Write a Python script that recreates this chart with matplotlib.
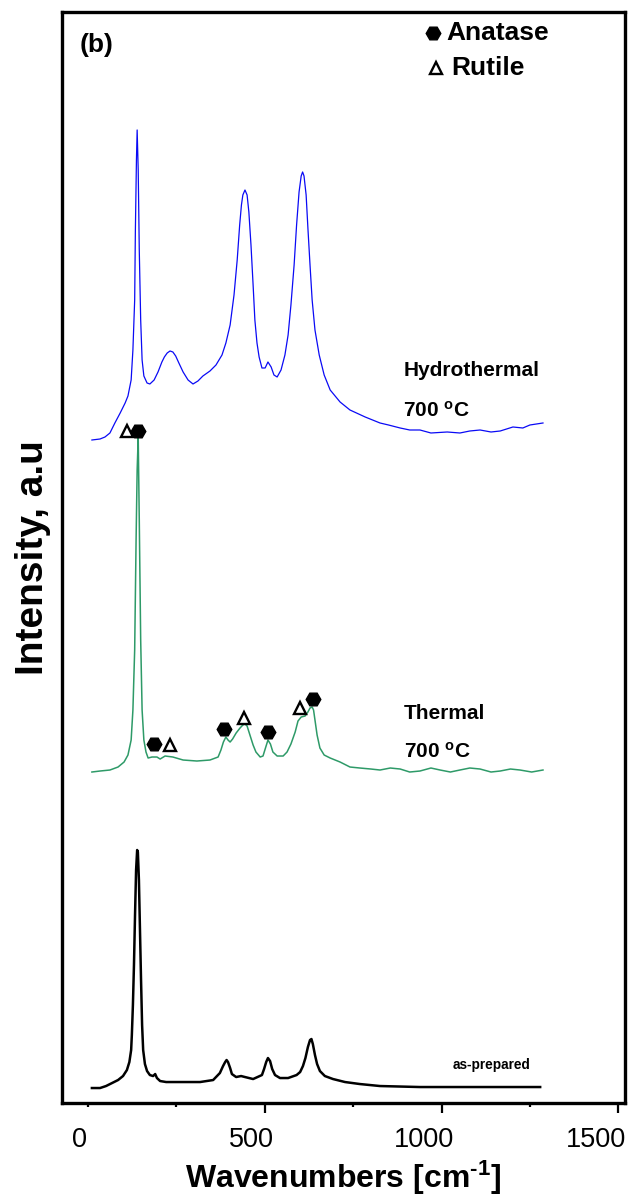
import numpy as np
import matplotlib
matplotlib.use("Agg")
import matplotlib.pyplot as plt
import matplotlib.transforms as mtransforms

plt.rcParams['font.family'] = ['Liberation Sans', 'DejaVu Sans']
plt.rcParams['mathtext.fontset'] = 'custom'
plt.rcParams['mathtext.rm'] = 'Liberation Sans:bold'
plt.rcParams['mathtext.it'] = 'Liberation Sans:bold'
plt.rcParams['mathtext.bf'] = 'Liberation Sans:bold'

# Raman spectra (wavenumber in cm-1, intensity in a.u.)
hydro_x = [11, 34, 48, 62, 76, 91, 105, 113, 122, 127, 132, 134, 137, 139, 142, 145, 149,
           153, 158, 167, 175, 187, 198, 209, 216, 224, 232, 240, 248, 257, 269, 283, 297,
           311, 325, 345, 362, 379, 390, 402, 413, 422, 429, 434, 438, 444, 450, 455, 461,
           467, 472, 478, 484, 492, 501, 509, 518, 526, 535, 546, 557, 566, 574, 583, 590,
           597, 603, 607, 611, 617, 622, 628, 634, 642, 654, 668, 685, 713, 741, 784, 826,
           850, 883, 910, 939, 970, 1016, 1052, 1080, 1109, 1140, 1166, 1202, 1230, 1250, 1287]
hydro_y = [663, 664, 666, 670, 680, 690, 700, 707, 723, 753, 803, 873, 943, 973, 933, 853, 783,
           743, 727, 720, 719, 723, 731, 741, 746, 750, 752, 751, 747, 740, 731, 723, 719,
           722, 727, 732, 738, 748, 760, 778, 808, 843, 878, 898, 908, 913, 908, 891, 858,
           818, 783, 760, 746, 735, 735, 741, 736, 728, 726, 733, 748, 768, 798, 838, 878,
           911, 927, 931, 927, 908, 875, 838, 803, 773, 748, 728, 713, 701, 693, 686, 680,
           678, 675, 673, 673, 670, 671, 670, 672, 673, 671, 672, 676, 675, 678, 680]

thermal_x = [11, 34, 62, 85, 102, 113, 122, 127, 132, 136, 139, 142, 145, 149, 153, 158, 164,
             170, 181, 195, 204, 218, 240, 269, 308, 345, 368, 376, 383, 390, 396, 402, 409,
             419, 430, 438, 444, 450, 458, 467, 475, 487, 495, 502, 509, 516, 523, 535, 552,
             563, 574, 586, 594, 603, 614, 622, 628, 634, 638, 642, 648, 656, 668, 685, 713,
             741, 769, 800, 826, 855, 883, 910, 939, 970, 996, 1025, 1052, 1080, 1109, 1140,
             1166, 1195, 1222, 1255, 1287]
thermal_y = [331, 332, 333, 336, 341, 348, 363, 393, 453, 563, 633, 666, 583, 463, 393, 363, 351,
             345, 346, 346, 344, 347, 346, 343, 342, 343, 346, 353, 361, 366, 363, 361, 364,
             370, 375, 378, 379, 377, 368, 358, 351, 346, 347, 355, 363, 359, 351, 347, 347,
             351, 359, 371, 382, 386, 387, 391, 395, 396, 393, 383, 368, 355, 348, 345, 341,
             336, 335, 334, 333, 335, 334, 331, 332, 335, 333, 331, 333, 335, 334, 331,
             332, 334, 333, 331, 333]

prep_x = [11, 34, 51, 68, 85, 99, 110, 117, 122, 124, 127, 130, 133, 136, 139, 141, 144,
          147, 150, 153, 156, 161, 167, 175, 184, 190, 195, 204, 221, 260, 289, 317, 354,
          373, 382, 388, 392, 396, 402, 407, 419, 433, 444, 467, 492, 498, 504, 509, 515,
          521, 529, 543, 566, 590, 600, 608, 615, 622, 628, 632, 636, 642, 648, 656, 670,
          693, 727, 769, 826, 939, 1052, 1166, 1279]
prep_y = [15, 15, 17, 20, 23, 27, 33, 41, 53, 68, 98, 138, 188, 233, 253, 251, 223,
          173, 123, 78, 53, 39, 32, 28, 27, 29, 25, 22, 21, 21, 21, 21, 23,
          30, 37, 41, 43, 41, 35, 29, 26, 27, 26, 24, 28, 34, 41, 45, 42,
          34, 28, 25, 25, 28, 31, 37, 45, 56, 63, 64, 59, 48, 39, 32, 27,
          24, 21, 19, 17, 16, 16, 16, 16]

# phase markers on the thermal spectrum
anatase_x = [141, 187, 385, 509, 636]
anatase_y = [672, 359, 374, 371, 404]
rutile_x = [110, 232, 441, 600]
rutile_y = [672, 358, 385, 395]

fig = plt.figure(figsize=(6.31, 11.97), dpi=100)
ax = fig.add_axes([0.0983, 0.0785, 0.8922, 0.9115])

ax.plot(hydro_x, hydro_y, color='#0a0af5', lw=0.9)
ax.plot(thermal_x, thermal_y, color='#2e9a68', lw=1.1)
ax.plot(prep_x, prep_y, color='black', lw=1.8)

ax.plot(anatase_x, anatase_y, 'H', color='black', ms=10.5, ls='none')
ax.plot(rutile_x, rutile_y, '^', mfc='white', mec='black', mew=1.7, ms=8, ls='none')

ax.set_xlim(-73.5, 1519)
ax.set_ylim(0, 1091)
ax.set_yticks([])

ax.set_xticks([0, 500, 1000, 1500])
ax.set_xticks([250, 750, 1250], minor=True)
ax.tick_params(axis='x', which='major', direction='out', length=7, width=1.6,
               labelsize=19.5, pad=10)
ax.tick_params(axis='x', which='minor', direction='out', length=3, width=1.6)
ax.xaxis.get_major_ticks()[0].tick1line.set_markersize(3)
# tick labels sit a little left of their ticks in the original
for lab, dx in zip(ax.get_xticklabels(), [-0.09, -0.13, -0.18, -0.22]):
    shift = mtransforms.ScaledTranslation(dx, 0, fig.dpi_scale_trans)
    lab.set_transform(lab.get_transform() + shift)

for s in ax.spines.values():
    s.set_linewidth(2.4)

ax.set_xlabel('Wavenumbers [cm$^{\\text{-1}}$]', fontsize=23, fontweight='bold', labelpad=4)
ax.set_ylabel('Intensity, a.u', fontsize=28, fontweight='bold', labelpad=8)

ax.text(0.032, 0.970, '(b)', transform=ax.transAxes, fontsize=19, fontweight='bold', va='center')
ax.text(0.606, 0.671, 'Hydrothermal', transform=ax.transAxes, fontsize=15, fontweight='bold', va='center')
ax.text(0.606, 0.635, '700 $^{\\rm o}$C', transform=ax.transAxes, fontsize=15, fontweight='bold', va='center')
ax.text(0.607, 0.357, 'Thermal', transform=ax.transAxes, fontsize=15, fontweight='bold', va='center')
ax.text(0.607, 0.322, '700 $^{\\rm o}$C', transform=ax.transAxes, fontsize=15, fontweight='bold', va='center')
ax.text(0.694, 0.035, 'as-prepared', transform=ax.transAxes, fontsize=9.8, fontweight='bold', va='center')

# legend drawn by hand at the top right
ax.plot([0.659], [0.981], 'H', color='black', ms=10.5, transform=ax.transAxes, clip_on=False)
ax.text(0.682, 0.981, 'Anatase', transform=ax.transAxes, fontsize=19, fontweight='bold', va='center')
ax.plot([0.664], [0.949], '^', mfc='white', mec='black', mew=1.7, ms=8, transform=ax.transAxes, clip_on=False)
ax.text(0.692, 0.949, 'Rutile', transform=ax.transAxes, fontsize=19, fontweight='bold', va='center')

fig.savefig('out.png', dpi=100)
